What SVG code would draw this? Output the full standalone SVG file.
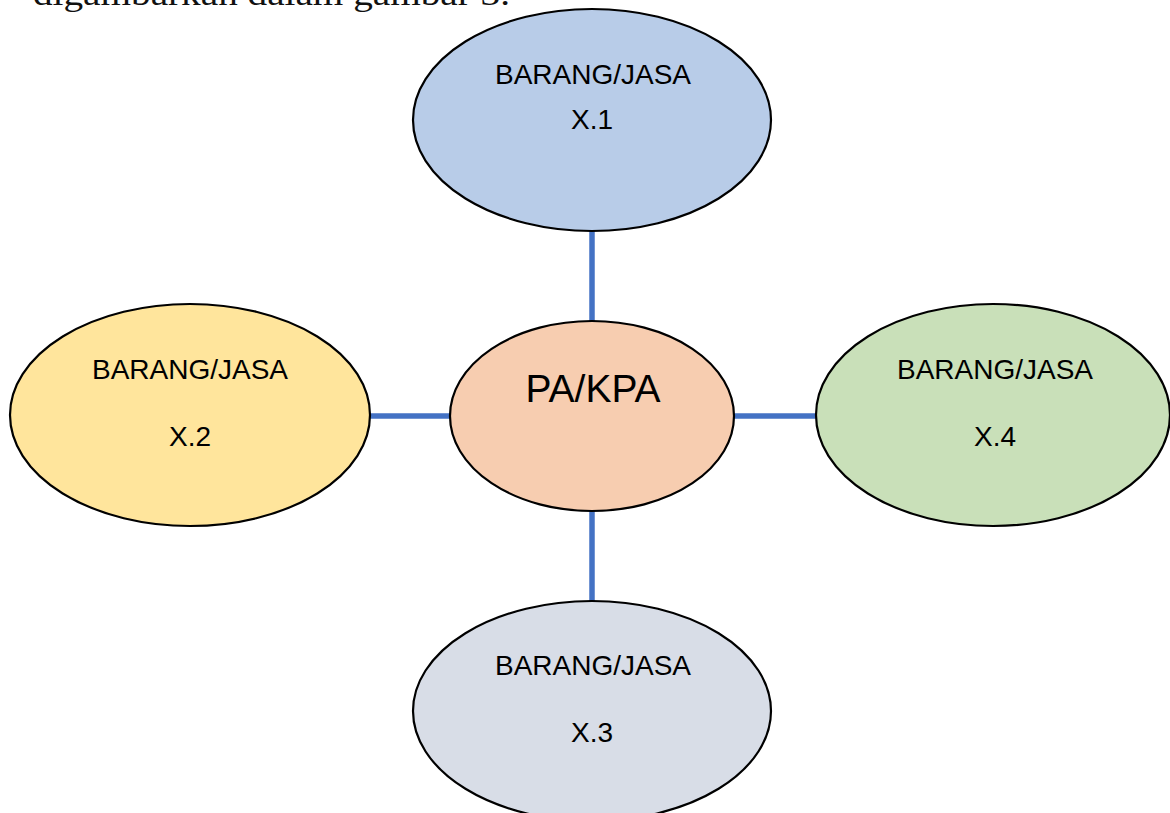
<svg xmlns="http://www.w3.org/2000/svg" width="1170" height="813" viewBox="0 0 1170 813">
  <style>
    .node { stroke: #000000; stroke-width: 2.2; }
    .label { font-family: "Liberation Sans", Arial, sans-serif; font-size: 28px; fill: #000000; text-anchor: middle; }
    .main { font-size: 39px; }
    .link { stroke: #4472C4; stroke-width: 5.5; fill: none; }
    .caption { font-family: "Liberation Serif", "Times New Roman", serif; font-size: 34px; fill: #111111; }
  </style>
  <rect width="1170" height="813" fill="#ffffff"/>

  <!-- tail of the sentence above the figure -->
  <text class="caption" x="33" y="5" textLength="477" lengthAdjust="spacingAndGlyphs">digambarkan dalam gambar 3.</text>

  <!-- links from the centre to each item -->
  <g id="connectors">
    <line class="link" x1="592" y1="231" x2="592" y2="321"/>
    <line class="link" x1="592" y1="511" x2="592" y2="601"/>
    <line class="link" x1="369" y1="416" x2="450" y2="416"/>
    <line class="link" x1="734" y1="416" x2="816" y2="416"/>
  </g>

  <g id="node-x1">
    <ellipse class="node" cx="592" cy="120" rx="179" ry="111" fill="#B8CCE8"/>
    <text class="label" x="593" y="84">BARANG/JASA</text>
    <text class="label" x="592" y="129">X.1</text>
  </g>

  <g id="node-x2">
    <ellipse class="node" cx="190" cy="415" rx="180" ry="111" fill="#FFE59C"/>
    <text class="label" x="190" y="379">BARANG/JASA</text>
    <text class="label" x="190" y="446">X.2</text>
  </g>

  <g id="node-x4">
    <ellipse class="node" cx="993" cy="415" rx="177" ry="111" fill="#C9E0B9"/>
    <text class="label" x="995" y="379">BARANG/JASA</text>
    <text class="label" x="995" y="446">X.4</text>
  </g>

  <g id="node-x3">
    <ellipse class="node" cx="592" cy="711" rx="179" ry="110" fill="#D8DDE7"/>
    <text class="label" x="593" y="675">BARANG/JASA</text>
    <text class="label" x="592" y="742">X.3</text>
  </g>

  <g id="node-pa-kpa">
    <ellipse class="node" cx="592" cy="416" rx="142" ry="95" fill="#F7CDB0"/>
    <text class="label main" x="593" y="402">PA/KPA</text>
  </g>
</svg>
